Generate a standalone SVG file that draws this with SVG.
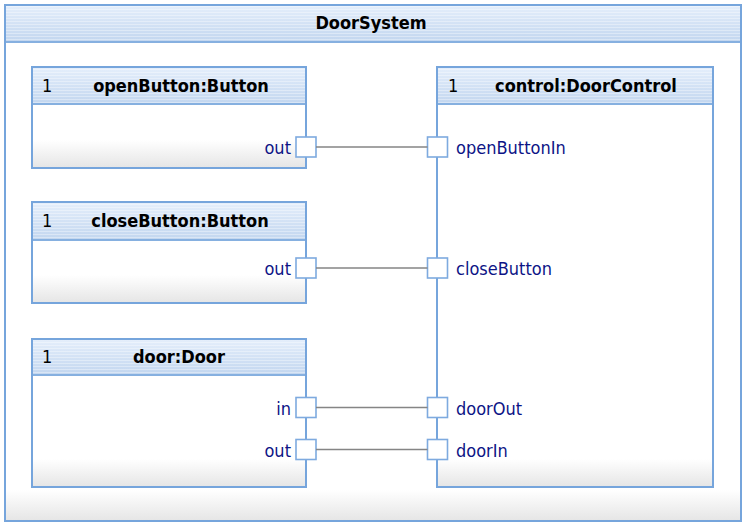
<svg xmlns="http://www.w3.org/2000/svg" width="747" height="526" viewBox="0 0 747 526">
<style>
.frame{fill:#ffffff;stroke:#76a5dc;stroke-width:2}
.hdr{fill:url(#hdrGrad)}
.stripe{fill:url(#stripes)}
.sep{stroke:#86b0e0;stroke-width:2}
.foot{fill:url(#footGrad)}
.title{font-family:"DejaVu Sans Condensed","DejaVu Sans",sans-serif;font-stretch:condensed;font-size:18px;font-weight:bold;fill:#000;text-anchor:middle}
.mult{font-family:"DejaVu Sans Condensed","DejaVu Sans",sans-serif;font-stretch:condensed;font-size:18px;fill:#000}
.plabel{font-family:"DejaVu Sans Condensed","DejaVu Sans",sans-serif;font-stretch:condensed;font-size:18px;fill:#0d1486}
.end{text-anchor:end}
.port{fill:#ffffff;stroke:#7eaadf;stroke-width:1.6}
.conn{stroke:#858585;stroke-width:1.6;fill:none}
</style>
<defs>
<linearGradient id="hdrGrad" x1="0" y1="0" x2="0" y2="1">
<stop offset="0" stop-color="#e4eefb"/>
<stop offset="1" stop-color="#c2d6ef"/>
</linearGradient>
<pattern id="stripes" x="0" y="0" width="4" height="3" patternUnits="userSpaceOnUse">
<rect x="0" y="0" width="4" height="1" fill="#ffffff" fill-opacity="0.35"/>
</pattern>
<linearGradient id="footGrad" x1="0" y1="0" x2="0" y2="1">
<stop offset="0" stop-color="#ffffff"/>
<stop offset="1" stop-color="#e6e6e6"/>
</linearGradient>
</defs>

<g id="DoorSystem">
<rect x="5" y="5" width="736" height="516" class="frame"/>
<rect x="6" y="490" width="734" height="30" class="foot"/>
<rect x="6" y="6" width="734" height="36" class="hdr"/>
<rect x="6" y="6" width="734" height="36" class="stripe"/>
<line x1="6" y1="42" x2="740" y2="42" class="sep"/>
<rect x="5" y="5" width="736" height="516" fill="none" stroke="#76a5dc" stroke-width="2"/>
<text x="371" y="29" class="title">DoorSystem</text>
</g>

<g id="openButton">
<rect x="32" y="67" width="274" height="101" class="frame"/>
<rect x="33" y="140" width="272" height="27" class="foot"/>
<rect x="33" y="68" width="272" height="36" class="hdr"/>
<rect x="33" y="68" width="272" height="36" class="stripe"/>
<line x1="33" y1="104" x2="305" y2="104" class="sep"/>
<rect x="32" y="67" width="274" height="101" fill="none" stroke="#76a5dc" stroke-width="2"/>
<text x="42" y="91.5" class="mult">1</text>
<text x="181" y="91.5" class="title">openButton:Button</text>
<rect x="296" y="137" width="20" height="20" class="port"/>
<text x="291" y="154" class="plabel end">out</text>
</g>

<g id="closeButton">
<rect x="32" y="202" width="274" height="101" class="frame"/>
<rect x="33" y="275" width="272" height="27" class="foot"/>
<rect x="33" y="203" width="272" height="37" class="hdr"/>
<rect x="33" y="203" width="272" height="37" class="stripe"/>
<line x1="33" y1="240" x2="305" y2="240" class="sep"/>
<rect x="32" y="202" width="274" height="101" fill="none" stroke="#76a5dc" stroke-width="2"/>
<text x="42" y="227" class="mult">1</text>
<text x="180" y="227" class="title">closeButton:Button</text>
<rect x="296" y="258" width="20" height="20" class="port"/>
<text x="291" y="275" class="plabel end">out</text>
</g>

<g id="door">
<rect x="32" y="339" width="274" height="148" class="frame"/>
<rect x="33" y="459" width="272" height="27" class="foot"/>
<rect x="33" y="340" width="272" height="35" class="hdr"/>
<rect x="33" y="340" width="272" height="35" class="stripe"/>
<line x1="33" y1="375" x2="305" y2="375" class="sep"/>
<rect x="32" y="339" width="274" height="148" fill="none" stroke="#76a5dc" stroke-width="2"/>
<text x="42" y="362.5" class="mult">1</text>
<text x="179" y="362.5" class="title">door:Door</text>
<rect x="296" y="397.5" width="20" height="20" class="port"/>
<text x="291" y="414.5" class="plabel end">in</text>
<rect x="296" y="439.5" width="20" height="20" class="port"/>
<text x="291" y="456.5" class="plabel end">out</text>
</g>

<g id="control">
<rect x="437" y="67" width="276" height="420" class="frame"/>
<rect x="438" y="459" width="274" height="27" class="foot"/>
<rect x="438" y="68" width="274" height="36" class="hdr"/>
<rect x="438" y="68" width="274" height="36" class="stripe"/>
<line x1="438" y1="104" x2="712" y2="104" class="sep"/>
<rect x="437" y="67" width="276" height="420" fill="none" stroke="#76a5dc" stroke-width="2"/>
<text x="448" y="91.5" class="mult">1</text>
<text x="586" y="91.5" class="title">control:DoorControl</text>
<rect x="427.5" y="137" width="20" height="20" class="port"/>
<text x="456" y="154" class="plabel">openButtonIn</text>
<rect x="427.5" y="258" width="20" height="20" class="port"/>
<text x="456" y="275" class="plabel">closeButton</text>
<rect x="427.5" y="397.5" width="20" height="20" class="port"/>
<text x="456" y="414.5" class="plabel">doorOut</text>
<rect x="427.5" y="439.5" width="20" height="20" class="port"/>
<text x="456" y="456.5" class="plabel">doorIn</text>
</g>

<g id="connectors">
<line x1="316" y1="147" x2="427.5" y2="147" class="conn"/>
<line x1="316" y1="268" x2="427.5" y2="268" class="conn"/>
<line x1="316" y1="407.5" x2="427.5" y2="407.5" class="conn"/>
<line x1="316" y1="449.5" x2="427.5" y2="449.5" class="conn"/>
</g>
</svg>
